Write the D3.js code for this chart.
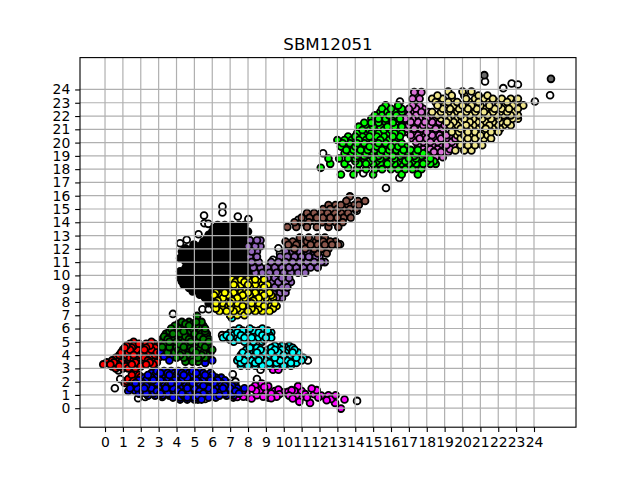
<!DOCTYPE html>
<html>
<head>
<meta charset="utf-8">
<script src="https://cdn.jsdelivr.net/npm/d3@7"></script>
<style>
html, body { margin: 0; padding: 0; background: #fff; }
svg { display: block; }
text { font-family: "DejaVu Sans", sans-serif; fill: #000; }
</style>
</head>
<body>
<div id="chart"></div>
<script>
// clusters are kept as [y, [x, x, ...]] rows or plain [x, y] pairs
const tickValues = d3.range(0, 25);

const whitePts = [[1.85,.75],[2.25,.85],[3.2,.85],[.55,1.5],[.85,2.2],[.75,2.85],[5.6,.7],[6.15,.85],[5.2,.65],
  [7.15,2.55],[7.3,2.0],[8.5,2.2],[8.7,2.9],[14.1,.55],[11.35,3.6],[9.2,5.4],[6.55,5.5],[3.8,7.1],[5.45,7.45],
  [5.8,7.45],[5.9,7.8],[6.57,15.19],[6.57,14.74],[5.54,14.51],[5.56,13.93],[5.78,13.88],[7.43,14.44],[8.02,14.24],
  [5.23,13.1],[4.2,12.42],[4.57,12.68],[4.95,12.3],[10.81,14.19],[13.15,12.35],[9.79,11.67],[9.4,11.17],[9.7,12.05],
  [14.08,14.87],[12.2,19.2],[14.45,17.7],[16.47,17.33],[15.72,16.58],[16.5,23.1],[21.26,24.6],[22.28,24.1],
  [22.75,24.45],[23.1,24.37],[24.05,23.1],[24.9,23.57],[21.2,20.7]];
const grayPts = [[21.22,25.08],[24.95,24.8]];

const magentaPts = [[7.18,.8],[7.74,.86],[8.2,.73],[8.2,1.48],[8.67,1.36],[8.76,1.86],[9.13,1.66],[9.13,.8],[9.5,1.3],
  [9.6,.86],[10.25,1.23],[10.5,.73],[10.44,1.36],[10.8,1.66],[10.87,.48],[11.2,1.06],[11.47,.4],[11.56,1.48],
  [11.84,1.36],[11.93,.8],[12.4,.6],[12.5,.98],[12.9,.98],[12.87,.4],[13.4,.66],[13.2,-.03],[8.5,.98],[8.85,.86],
  [9.3,1.1],[10.7,.98],[7.9,1.2],[8.4,1.7],[9.4,2.9],[9.7,2.9],[7.5,1.2],[8.0,.85],[8.45,1.3],[8.95,1.25],[9.3,.75],
  [9.75,1.05],[10.0,1.2],[10.3,.95],[10.6,1.3],[11.0,1.3],[11.3,.8],[11.7,1.05],[12.1,.95],[12.65,.7],[7.4,.85],
  [8.9,1.6],[9.7,1.4],[10.95,.8]];

const redRows = [[5.0,[1.6,2.6]],[4.85,[1.4,1.9,2.3,2.75]],[4.7,[1.2,1.6,2.0,2.5,3.0]],[4.55,[1.1,1.5,1.9,2.3,2.8]],
  [4.4,[1.0,1.4,1.8,2.2,2.6,3.0]],[4.2,[.9,1.3,1.7,2.1,2.5,2.9]],[4.0,[.8,1.2,1.6,2.0,2.4,2.8]],
  [3.8,[.6,1,1.4,1.8,2.2,2.6,3]],[3.6,[.4,.8,1.2,1.6,2.0,2.4,2.8]],[3.45,[.1,.5,.9,1.3,1.7,2.1,2.5,2.9]],
  [3.3,[-.1,.3,.7,1.1,1.5,1.9,2.3,2.7]],[3.15,[.4,.8,1.15,1.5,2.0]],[3.0,[.6,1.0,1.3,1.7]],[2.5,[1.5,1.9]],
  [2.35,[1.6,2.0]],[2.2,[1.3,1.7,2.1]],[2.05,[1.2,1.6,2.0]],[1.9,[1.1,1.5,1.9]]];

const blueRows = [[4.2,[3.1]],[3.9,[3.3,3.8]],[3.6,[3.6,6.0]],[3.4,[5.6]],
  [2.8,[2.9,3.3,3.7,4.1,4.5,4.9,5.3]],[2.65,[2.6,3.1,3.5,3.9,4.3,4.7,5.1,5.5,5.9]],
  [2.5,[2.4,2.8,3.2,3.6,4,4.4,4.8,5.2,5.6,6]],[2.3,[2.2,2.6,3,3.4,3.8,4.2,4.6,5,5.4,5.8,6.2,6.5]],
  [2.1,[1.9,2.3,2.7,3.1,3.5,3.9,4.3,4.7,5.1,5.5,5.9,6.3,6.7]],[1.9,[1.7,2.1,2.5,2.9,3.3,3.7,4.1,4.5,4.9,5.3,5.7,6.1,6.5,6.9]],
  [1.7,[1.5,1.9,2.3,2.7,3.1,3.5,3.9,4.3,4.7,5.1,5.5,5.9,6.3,6.7,7.1,7.3]],
  [1.5,[1.4,1.8,2.2,2.6,3,3.4,3.8,4.2,4.6,5,5.4,5.8,6.2,6.6,7,7.4,7.8]],
  [1.3,[1.3,1.7,2.1,2.5,2.9,3.3,3.7,4.1,4.5,4.9,5.3,5.7,6.1,6.5,6.9,7.3,7.7]],
  [1.1,[1.9,2.3,2.7,3.1,3.5,3.9,4.3,4.7,5.1,5.5,5.9,6.3,6.7,7.1,7.5]],
  [.95,[2.4,2.8,3.2,3.6,4,4.4,4.8,5.2,5.6,6,6.4,6.8,7.2]],[.8,[3.8,4.2,4.6,5,5.4,5.8,6.2]],[.65,[4.2,4.6,5,5.4]]];

const greenRows = [[6.95,[5.15]],[6.5,[4.3,4.7,5.1,5.4]],[6.35,[4.1,4.5,4.9,5.3]],[6.2,[3.9,4.3,4.7,5.1,5.5]],
  [6.0,[3.7,4.1,4.5,4.9,5.3,5.6]],[5.8,[3.6,4,4.4,4.8,5.2,5.6]],[5.6,[3.4,3.8,4.2,4.6,5,5.4,5.7]],
  [5.4,[3.3,3.7,4.1,4.5,4.9,5.3,5.7]],[5.2,[3.2,3.5,3.9,4.3,4.7,5.1,5.5,5.8]],[5.0,[3.2,3.6,4,4.4,4.8,5.2,5.8]],
  [4.8,[3.3,3.8,4.2,4.6,5,5.4,5.8]],[4.6,[3.2,3.6,4,4.4,4.8,5.2,5.6,5.8]],[4.4,[3.7,4.1,4.5,4.9,5.3,5.7,6]],
  [4.2,[3.5,3.9,4.3,4.7,5.1,5.5,5.9]],[4,[4.2,4.6,5,5.4,5.7]],[3.8,[4,4.4,4.8,5.2,5.6]],[3.5,[4.5,4.9,5.2]]];

const cyanRows = [[7.0,[7.0]],[6.8,[7.1]],[6.0,[7.5,8.1,8.8]],[5.85,[7.2,7.7,8.3,8.6,9.1]],[5.7,[7,7.4,7.8,8.2,8.6,9,9.3]],
  [5.5,[6.8,7.2,7.6,8,8.4,8.8,9.2]],[5.3,[6.6,7,7.4,7.8,8.2,8.6,9,9.3]],[5.15,[7,7.5,7.9,8.4,8.9]],[5.0,[7.2,7.8,8.3,8.8]],
  [4.7,[9.5,9.9,10.3]],[4.55,[8.1,8.5,9.3,9.7,10.1,10.5]],[4.4,[7.9,8.3,8.7,9.1,9.5,9.9,10.3,10.6]],
  [4.2,[7.7,8.1,8.5,8.9,9.3,9.7,10.1,10.5,10.8]],[4.0,[7.6,8,8.4,8.8,9.2,9.6,10,10.4,10.8]],
  [3.8,[7.5,7.9,8.3,8.7,9.1,9.5,9.9,10.3,10.7,11.1]],[3.6,[7.4,7.8,8.2,8.6,9,9.4,9.8,10.2,10.6,11]],
  [3.4,[7.6,8,8.4,8.8,9.2,9.6,10,10.4,10.7]],[3.2,[7.6,8,8.4,8.8,9.2,9.6,10,10.4]]];

const blackRows = [[13.8,[6.3,6.7,7.1,7.5,7.8]],[13.55,[6.1,6.5,6.9,7.3,7.7]],[13.3,[6,6.4,6.8,7.2,7.6,8]],[13.05,[5.8,6.2,6.6,7,7.4,7.8]],
  [12.8,[5.7,6.1,6.5,6.9,7.3,7.7,8]],[12.55,[5.5,5.9,6.3,6.7,7.1,7.5,7.9]],[12.3,[5,5.4,5.8,6.2,6.6,7,7.4,7.8,8]],
  [12.05,[4.5,4.9,5.2,5.6,6,6.4,6.8,7.2,7.6,8]],[11.8,[4.3,4.7,5.1,5.5,5.9,6.3,6.7,7.1,7.5,7.9]],
  [11.55,[4.4,4.8,5.2,5.6,6,6.4,6.8,7.2,7.6,8]],[11.3,[4.2,4.6,5,5.4,5.8,6.2,6.6,7,7.4,7.8,8]],
  [11.05,[4.5,4.9,5.3,5.7,6.1,6.5,6.9,7.3,7.7,8.1]],[10.8,[4.7,5.1,5.5,5.9,6.3,6.7,7.1,7.5,7.9]],
  [10.55,[4.5,4.9,5.3,5.7,6.1,6.5,6.9,7.3,7.7,8.1]],[10.3,[4.2,4.5,4.9,5.3,5.7,6.1,6.5,6.9,7.3,7.7,8.1]],
  [10.05,[4.3,4.7,5.1,5.5,5.9,6.3,6.7,7.1,7.5,7.9]],[9.8,[4.2,4.6,5,5.4,5.8,6.2,6.6,7,7.4,7.8,8.1]],
  [9.55,[4.3,4.7,5.1,5.5,5.9,6.3,6.7,7.1,7.5]],[9.3,[4.4,4.8,5.2,5.6,6,6.4,6.8,7.2]],[9.05,[4.7,5.1,5.5,5.9,6.3,6.7]],
  [8.8,[4.9,5.3,5.7,6.1,6.5]],[8.55,[5.3,5.7,6.1]],[8.3,[5.6,6,6.4]],[7.9,[5.8,6.1]]];

const purpleRows = [[12.65,[8.1,8.5,8.7]],[12.2,[8,8.4,8.7]],[11.8,[8.2,8.5,10.1,10.5,10.9,11.3,11.7]],
  [11.4,[8.1,8.5,9.8,10.2,10.6,11,11.4,11.8,12]],[11,[8.2,8.6,9.3,9.7,10.1,10.5,10.9,11.3,11.7,12.1,12.3]],
  [10.6,[8.3,8.7,9.1,9.5,9.9,10.3,10.7,11.1,11.5,11.9]],[10.2,[8.4,8.8,9.2,9.6,10,10.4,10.8,11.2]],
  [9.8,[8.9,9.1,9.5,9.9,10.3]],[9.5,[9.3,9.7,10.1,10.4]],[9.1,[9.5,9.9,10.2]],[8.7,[9.4,9.8,10.1]],[8.3,[9.6,9.9]]];

const brownRows = [[15.95,[13.7]],[15.6,[13.5,14.15,14.55]],[15.3,[12.5,12.9,13.2,13.6,13.95,14.2]],
  [15,[12.2,12.6,13,13.35,13.7,14.05]],[14.7,[11.3,11.7,12.1,12.45,12.85,13.2,13.6]],
  [14.35,[11,11.45,11.85,12.2,12.6,13,13.35,13.75]],[14,[10.6,11,11.4,11.8,12.15,12.55,12.9,13.3]],
  [13.65,[10.2,10.7,11.3,11.85,12.5,13.05]],[12.85,[10.9,11.4,11.9,12.3]],
  [12.55,[10.1,10.5,10.9,11.3,11.8,12.2,12.6,12.9]],[12.3,[10.25,10.7,11.1,11.5,11.9,12.3,12.7,13.05]],
  [12.0,[10.6,11.2,11.7,12.1,12.5]],[11.65,[11.9,12.4]]];

const yellowRows = [[9.7,[7.1,7.6,8,8.4,8.9]],[9.5,[7.3,7.8,8.2,8.7]],[9.3,[7.2,7.6,8,8.4,8.8,9.1]],[9.1,[7.3,7.7,8.1,8.5,8.9]],
  [8.9,[7.1,7.5,7.9,8.3,8.7,9.1]],[8.7,[6.2,6.7,7.2,7.6,8,8.4,8.8,9.2]],[8.5,[6.1,6.5,6.9,7.3,7.7,8.1,8.5,8.9,9.3]],
  [8.3,[6.2,6.6,7,7.4,7.8,8.2,8.6,9,9.4]],[8.1,[6.3,6.7,7.1,7.5,7.9,8.3,8.7,9.1]],[7.9,[6.2,6.6,7,7.4,7.8,8.2,8.6,9,9.5]],
  [7.7,[6.1,6.5,6.9,7.3,7.7,8.1,8.5,8.9,9.3,9.6]],[7.5,[6.2,6.6,7,7.4,7.8,8.2,8.6,9,9.4]],
  [7.3,[6.4,6.8,7.2,7.6,8,8.4,8.8,9.2]],[7.0,[7,7.4,7.8]]];

const orchidRows = [[23.8,[17.3,17.7]],[23.3,[17.2,17.6]],[22.8,[17.2,17.6]],[22.55,[17,17.4,17.8]],[22.3,[16.9,17.3,17.7,18.1]],
  [22.05,[16.6,17,17.4,17.8,18.2]],[21.8,[16.4,16.8,17.2,17.6,18,18.4]],[21.55,[16.7,17.1,17.5,17.9,18.3,18.7]],
  [21.3,[16.6,17,17.4,17.8,18.2,18.6,19]],[21.05,[16.9,17.3,17.7,18.1,18.5,18.9]],[20.8,[16.8,17.2,17.6,18,18.4,18.8]],
  [20.55,[17.1,17.5,17.9,18.3,18.7,19.1,19.4]],[20.3,[17.2,17.6,18,18.4,18.8,19.2,19.6]],[20.05,[17.4,17.8,18.2,18.6,19,19.4]],
  [19.8,[17.5,17.9,18.3,18.7,19.1,19.5]],[19.5,[17.8,18.2,18.6,19,19.3]],[19.3,[18,18.4,18.8,19.2]],[18.9,[18.5,18.9]]];

const khakiRows = [[23.85,[19.2,20,20.5]],[23.55,[18.6,19.4,20.1,20.9,21.4]],[23.3,[18.3,18.9,19.4,20.2,20.7,21.2,21.7,22.2,22.7,23.1]],
  [23.05,[18.5,19.2,19.7,20.4,20.9,21.5,22,22.5,23]],[22.8,[18.6,19,19.5,20,20.5,21,21.5,22,22.4,22.8,23.4]],
  [22.55,[18.9,19.3,19.8,20.3,20.8,21.3,21.8,22.2,22.6,23.1]],[22.3,[18.3,18.8,19.2,19.7,20.2,20.7,21.2,21.7,22.1,22.5,22.9]],
  [22.05,[18.6,19,19.4,19.9,20.4,20.9,21.4,21.9,22.3,22.7,23.1]],[21.8,[18.8,19.2,19.6,20.1,20.6,21.1,21.6,22,22.4,22.8,23.1]],
  [21.55,[19.1,19.5,19.9,20.4,20.8,21.3,21.7,22.1,22.5]],[21.3,[19.3,19.7,20.2,20.6,21,21.5,21.9,22.3,22.7]],
  [21.05,[19.4,19.9,20.4,20.8,21.3,21.7,22.1]],[20.8,[19.4,19.8,20.3,20.7,21.2,21.6,22]],[20.55,[19.7,20.1,20.5,21,21.4]],
  [20.3,[19.9,20.3,20.7,21.2,21.6]],[19.8,[19.9,20.3,20.7,21.1]],[19.4,[19.6,20.1,20.5]]];

const limeRows = [[22.8,[15.7,16.4]],[22.55,[15.5,16,16.6]],[22.3,[15.4,15.8,16.2,16.6]],[22.05,[15.1,15.5,15.9,16.3]],
  [21.8,[14.9,15.3,15.7,16.1,16.5]],[21.5,[14.5,14.9,15.3,15.7,16.1]],[21.2,[14.2,14.6,15,15.4,15.8,16.2,16.6]],
  [20.95,[14.4,14.8,15.2,15.6,16,16.5]],[20.7,[14.1,14.5,14.9,15.3,15.8,16.2,16.6]],[20.45,[13.6,14,14.4,14.8,15.2,15.6,16.1,16.5]],
  [20.2,[13,13.4,13.8,14.2,14.6,15,15.4,15.9,16.3]],[19.95,[13.3,13.7,14.1,14.5,14.9,15.3,15.7,16.2,16.6]],
  [19.7,[13.2,13.6,14,14.4,14.8,15.2,15.6,16,16.4,16.8]],[19.45,[13.5,13.9,14.3,14.7,15.1,15.5,15.9,16.3,16.7,17.1,17.5]],
  [19.2,[13.4,13.8,14.2,14.6,15,15.4,15.8,16.2,16.6,17,17.4,17.8]],
  [19,[13.7,14.1,14.5,14.9,15.3,15.7,16.1,16.5,16.9,17.3,17.7,18.1]],
  [18.8,[12.5,13.1,13.6,14,14.5,15,15.4,15.8,16.2,16.6,17,17.4,17.8,18.2]],
  [18.6,[14,14.4,14.8,15.2,15.6,16,16.4,16.8,17.2,17.6,18,18.4]],
  [18.4,[12.6,13.4,14.2,14.6,15,15.4,15.8,16.2,16.6,17,17.4,17.8,18.2,18.5]],
  [18.1,[12.07,13.6]],[18.0,[14.1,14.6,15.1,15.5,16,16.4,16.8,17.2,17.7]],[17.6,[13.2,13.9,15,16.6,17.5]]];

const rows = r => r.flatMap(([y, xs]) => xs.map(x => [x, y]));

// draw order, bottom to top
const series = [
  { color: "#ffffff", pts: whitePts },
  { color: "#696969", pts: grayPts },
  { color: "#ff00ff", pts: magentaPts },
  { color: "#ff0000", pts: rows(redRows) },
  { color: "#0000ff", pts: rows(blueRows) },
  { color: "#008000", pts: rows(greenRows) },
  { color: "#00ffff", pts: rows(cyanRows) },
  { color: "#000000", pts: rows(blackRows) },
  { color: "#9467bd", pts: rows(purpleRows) },
  { color: "#8c564b", pts: rows(brownRows) },
  { color: "#ffff00", pts: rows(yellowRows) },
  { color: "#da70d6", pts: rows(orchidRows) },
  { color: "#f0e68c", pts: rows(khakiRows) },
  { color: "#00ff00", pts: rows(limeRows) }
];

const width = 640, height = 480;
const x = d3.scaleLinear().domain([-1.4, 26.35]).range([80, 576]);
const y = d3.scaleLinear().domain([-1.43, 26.4]).range([427.2, 57.6]);

const svg = d3.select("#chart").append("svg")
  .attr("width", width)
  .attr("height", height);

const groups = svg.selectAll("g.series")
  .data(series)
  .join("g")
  .attr("class", "series")
  .attr("fill", d => d.color)
  .attr("stroke", "#000")
  .attr("stroke-width", 1.8);

// points overlap in no particular order in the original, so step through each list instead of drawing row by row
const scramble = pts => d3.range(pts.length)
  .sort((a, b) => (a * 61) % 97 - (b * 61) % 97 || a - b)
  .map(i => pts[i]);

groups.selectAll("circle")
  .data(d => scramble(d.pts))
  .join("circle")
  .attr("cx", d => x(d[0]))
  .attr("cy", d => y(d[1]))
  .attr("r", 3.4);

// grid goes over the points
const grid = svg.append("g").attr("stroke", "#b0b0b0").attr("stroke-width", 1.2);
grid.selectAll("line.v").data(tickValues).join("line").attr("class", "v")
  .attr("x1", d => x(d)).attr("x2", d => x(d)).attr("y1", 57.6).attr("y2", 427.2);
grid.selectAll("line.h").data(tickValues).join("line").attr("class", "h")
  .attr("x1", 80).attr("x2", 576).attr("y1", d => y(d)).attr("y2", d => y(d));

const xAxis = svg.append("g").attr("transform", "translate(0,427.2)")
  .call(d3.axisBottom(x).tickValues(tickValues).tickSizeOuter(0).tickSize(4.86).tickPadding(4.9));
const yAxis = svg.append("g").attr("transform", "translate(80,0)")
  .call(d3.axisLeft(y).tickValues(tickValues).tickSizeOuter(0).tickSize(4.86).tickPadding(4.9));
[xAxis, yAxis].forEach(a => {
  a.select(".domain").remove();
  a.selectAll("line").attr("stroke", "#000").attr("stroke-width", 1.11);
  a.selectAll("text").attr("font-size", 13.9).attr("font-family", "DejaVu Sans, sans-serif");
});

svg.append("rect")
  .attr("x", 80).attr("y", 57.6).attr("width", 496).attr("height", 369.6)
  .attr("fill", "none").attr("stroke", "#000").attr("stroke-width", 1.11);

svg.append("text")
  .attr("x", 328).attr("y", 49.5)
  .attr("text-anchor", "middle")
  .attr("font-size", 16.67)
  .text("SBM12051");
</script>
</body>
</html>
